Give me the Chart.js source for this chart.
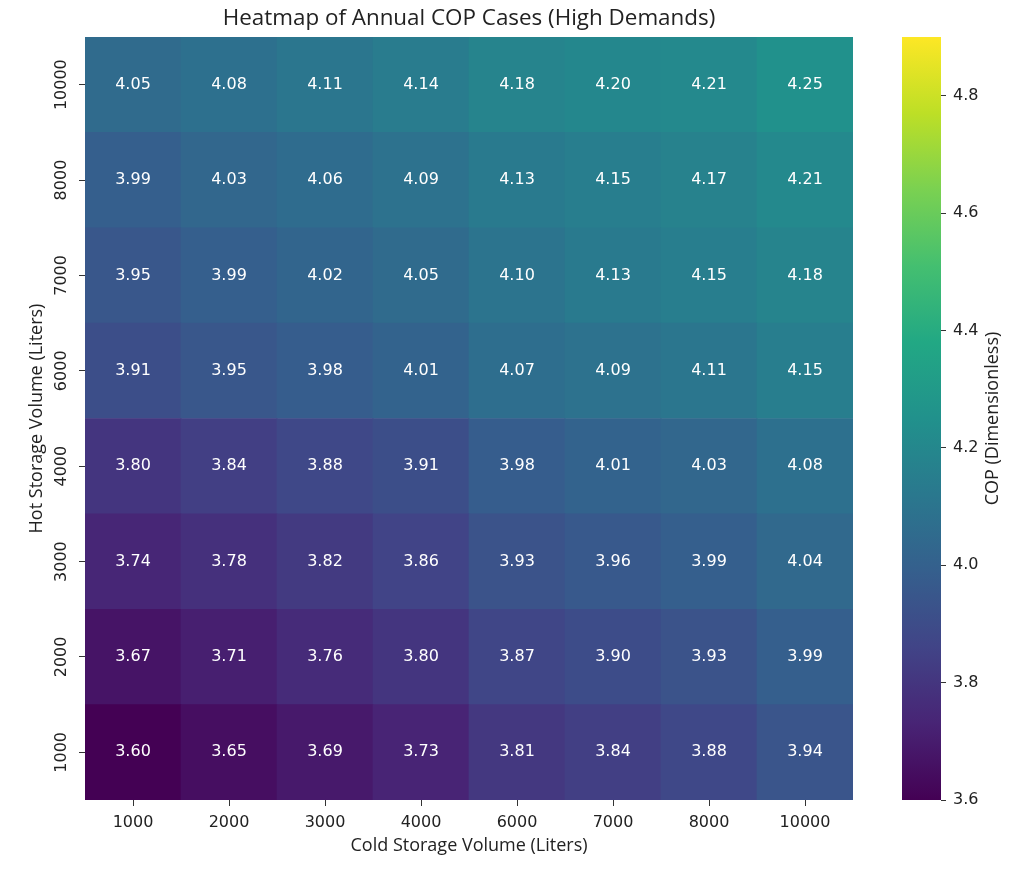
<!DOCTYPE html>
<html><head><meta charset="utf-8">
<script src="https://cdn.jsdelivr.net/npm/chart.js@4.4.0/dist/chart.umd.min.js"></script>
<style>
html,body{margin:0;padding:0;background:#fff;}
#wrap{position:relative;width:1024px;height:872px;}
#main{position:absolute;left:0;top:0;width:1024px;height:872px;}
#cbar{position:absolute;left:860px;top:0;width:164px;height:872px;}
</style></head><body>
<div id="wrap">
<div id="main"><canvas id="c1"></canvas></div>
<div id="cbar"><canvas id="c2"></canvas></div>
</div>
<script>
// ---- data ----
const coldLabels = ['1000','2000','3000','4000','6000','7000','8000','10000'];
const hotLabels  = ['1000','2000','3000','4000','6000','7000','8000','10000']; // bottom -> top
const hot1000  = [3.60, 3.65, 3.69, 3.73, 3.81, 3.84, 3.88, 3.94];
const hot2000  = [3.67, 3.71, 3.76, 3.80, 3.87, 3.90, 3.93, 3.99];
const hot3000  = [3.74, 3.78, 3.82, 3.86, 3.93, 3.96, 3.99, 4.04];
const hot4000  = [3.80, 3.84, 3.88, 3.91, 3.98, 4.01, 4.03, 4.08];
const hot6000  = [3.91, 3.95, 3.98, 4.01, 4.07, 4.09, 4.11, 4.15];
const hot7000  = [3.95, 3.99, 4.02, 4.05, 4.10, 4.13, 4.15, 4.18];
const hot8000  = [3.99, 4.03, 4.06, 4.09, 4.13, 4.15, 4.17, 4.21];
const hot10000 = [4.05, 4.08, 4.11, 4.14, 4.18, 4.20, 4.21, 4.25];
const rows = [hot1000, hot2000, hot3000, hot4000, hot6000, hot7000, hot8000, hot10000];
const cMin = 3.6, cMax = 4.9;
const cbTicks = [3.6, 3.8, 4.0, 4.2, 4.4, 4.6, 4.8];

// ---- viridis colormap ----
const viridisStops = ['#440154','#482475','#414487','#355f8d','#2a788e','#21918c','#22a884','#44bf70','#7ad151','#bddf26','#fde725'];
function hex2rgb(h){return [parseInt(h.slice(1,3),16),parseInt(h.slice(3,5),16),parseInt(h.slice(5,7),16)];}
function viridis(t){
  t = Math.max(0, Math.min(1, t));
  const n = viridisStops.length - 1;
  const k = Math.min(n - 1, Math.floor(t * n));
  const f = t * n - k;
  const a = hex2rgb(viridisStops[k]), b = hex2rgb(viridisStops[k+1]);
  const c = a.map((v,i)=>Math.round(v + (b[i]-v)*f));
  return 'rgb(' + c.join(',') + ')';
}

const TXT = '#222';
const TICKFONT = '"DejaVu Sans", Verdana, sans-serif';
const LABFONT = '"Open Sans", "Noto Sans", sans-serif';

const cellLabels = {
  id: 'cellLabels',
  afterDatasetsDraw(chart){
    const ctx = chart.ctx;
    ctx.save();
    ctx.font = '16px ' + TICKFONT;
    ctx.fillStyle = '#ffffff';
    ctx.textAlign = 'center';
    ctx.textBaseline = 'middle';
    chart.data.datasets.forEach((ds, i) => {
      const meta = chart.getDatasetMeta(i);
      meta.data.forEach((el, j) => {
        const p = el.getProps(['x','y','base'], true);
        ctx.fillText(ds.cop[j].toFixed(2), p.x, (p.y + p.base) / 2);
      });
    });
    ctx.restore();
  }
};

const yRotLabels = {
  id: 'yRotLabels',
  afterDraw(chart){
    const s = chart.scales.y;
    const ctx = chart.ctx;
    ctx.save();
    ctx.font = '16px ' + TICKFONT;
    ctx.fillStyle = TXT;
    ctx.textAlign = 'center';
    ctx.textBaseline = 'middle';
    s.ticks.forEach(t => {
      const y = s.getPixelForValue(t.value);
      ctx.save();
      ctx.translate(s.right - 23, y);
      ctx.rotate(-Math.PI / 2);
      ctx.fillText(hotLabels[t.value], 0, 0);
      ctx.restore();
    });
    ctx.restore();
  }
};

new Chart(document.getElementById('c1'), {
  type: 'bar',
  data: {
    labels: coldLabels,
    datasets: rows.map((row, i) => ({
      data: row.map(() => [i - 0.5, i + 0.5]),
      cop: row,
      backgroundColor: row.map(v => viridis((v - cMin) / (cMax - cMin))),
      borderWidth: 0,
      barPercentage: 1,
      categoryPercentage: 1,
      grouped: false
    }))
  },
  options: {
    responsive: true, maintainAspectRatio: false, animation: false,
    layout: { padding: { left: 0, right: 171, top: 0, bottom: 0 } },
    plugins: {
      legend: { display: false },
      tooltip: { enabled: false },
      title: {
        display: true, fullSize: false,
        text: 'Heatmap of Annual COP Cases (High Demands)',
        color: TXT,
        font: { family: LABFONT, size: 22.4, weight: 'normal' },
        padding: { top: 5, bottom: 5.1 }
      }
    },
    scales: {
      x: {
        type: 'category',
        grid: { display: true, offset: false, drawOnChartArea: false, drawTicks: true, tickLength: 6, color: '#333' },
        border: { display: false },
        ticks: { font: { family: TICKFONT, size: 16 }, color: TXT, padding: 7, maxRotation: 0, minRotation: 0 },
        title: { display: true, text: 'Cold Storage Volume (Liters)', color: TXT,
                 font: { family: LABFONT, size: 18 }, padding: { top: 0, bottom: 15 } },
        afterFit: s => { s.height = 72; }
      },
      y: {
        type: 'linear', min: -0.5, max: 7.5,
        afterBuildTicks: s => { s.ticks = hotLabels.map((_, i) => ({ value: i })); },
        grid: { display: true, drawOnChartArea: false, drawTicks: true, tickLength: 6, color: '#333' },
        border: { display: false },
        ticks: { color: 'rgba(0,0,0,0)', callback: v => hotLabels[v] },
        title: { display: true, text: 'Hot Storage Volume (Liters)', color: TXT,
                 font: { family: LABFONT, size: 18 }, padding: { top: 26, bottom: 0 } },
        afterFit: s => { s.width = 85; }
      }
    }
  },
  plugins: [cellLabels, yRotLabels]
});

const cbLabel = {
  id: 'cbLabel',
  afterDraw(chart){
    const s = chart.scales.y;
    const ctx = chart.ctx;
    ctx.save();
    ctx.font = '18px ' + LABFONT;
    ctx.fillStyle = TXT;
    ctx.textAlign = 'center';
    ctx.textBaseline = 'middle';
    ctx.translate(s.right - 31, (s.top + s.bottom) / 2);
    ctx.rotate(-Math.PI / 2);
    ctx.fillText('COP (Dimensionless)', 0, 0);
    ctx.restore();
  }
};

new Chart(document.getElementById('c2'), {
  type: 'bar',
  data: {
    labels: [''],
    datasets: [{
      data: [[cMin, cMax]],
      backgroundColor: (c) => {
        const a = c.chart.chartArea;
        if (!a) return viridis(0.5);
        const g = c.chart.ctx.createLinearGradient(0, a.bottom, 0, a.top);
        viridisStops.forEach((col, k) => g.addColorStop(k / (viridisStops.length - 1), col));
        return g;
      },
      borderWidth: 0, barPercentage: 1, categoryPercentage: 1
    }]
  },
  options: {
    responsive: true, maintainAspectRatio: false, animation: false,
    layout: { padding: { left: 42, top: 37, bottom: 72, right: 0 } },
    plugins: { legend: { display: false }, tooltip: { enabled: false }, title: { display: false } },
    scales: {
      x: { display: false },
      y: {
        position: 'right', min: cMin, max: cMax,
        afterBuildTicks: s => { s.ticks = cbTicks.map(v => ({ value: v })); },
        grid: { display: true, drawOnChartArea: false, drawTicks: true, tickLength: 5, color: '#333' },
        border: { display: false },
        ticks: { font: { family: TICKFONT, size: 16 }, color: TXT, padding: 7, callback: v => Number(v).toFixed(1) },
        afterFit: s => { s.width = 83; }
      }
    }
  },
  plugins: [cbLabel]
});
</script>
</body></html>
